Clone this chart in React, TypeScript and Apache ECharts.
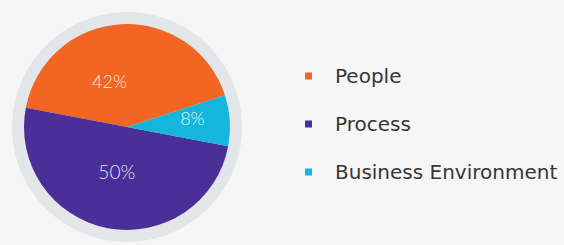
import React, { useEffect, useRef } from "react";
import * as echarts from "echarts";

const categories = ["People", "Process", "Business Environment"];
const values = [42, 50, 8];
const colors = ["#f26522", "#4a2f98", "#14b6dc"];
const labelOffsets: [number, number][] = [[-14, 8], [0, -9], [11, -6]];

export default function App() {
  const ref = useRef<HTMLDivElement>(null);
  useEffect(() => {
    const chart = echarts.init(ref.current!, null, { renderer: "svg" });
    chart.setOption({
      animation: false,
      backgroundColor: "#f6f6f6",
      legend: {
        orient: "vertical",
        left: 300,
        top: 59,
        data: categories,
        icon: "rect",
        itemWidth: 7,
        itemHeight: 7,
        itemGap: 24,
        selectedMode: false,
        textStyle: {
          fontFamily: "DejaVu Sans",
          fontSize: 20,
          fontWeight: 400,
          color: "#363636",
          padding: [0, 0, 0, 18],
          lineHeight: 24,
        },
      },
      series: [
        {
          type: "pie",
          silent: true,
          center: [127, 127],
          radius: [0, 115],
          z: 1,
          label: { show: false },
          labelLine: { show: false },
          itemStyle: { color: "#e3e6e9" },
          data: [{ name: "ring", value: 1 }],
        },
        {
          type: "pie",
          center: [127, 127],
          radius: [0, 103],
          startAngle: 18,
          clockwise: false,
          z: 2,
          label: {
            show: true,
            position: "inside",
            formatter: "{c}%",
            color: "rgba(255,255,255,0.88)",
            fontFamily: "Lato",
            fontWeight: 300,
            fontSize: 18,
          },
          labelLine: { show: false },
          itemStyle: { borderWidth: 0 },
          data: categories.map((name, i) => ({
            name,
            value: values[i],
            itemStyle: { color: colors[i] },
            label: { offset: labelOffsets[i], fontSize: i === 1 ? 19 : 18 },
          })),
        },
      ],
    });
    return () => chart.dispose();
  }, []);
  return (
    <div
      ref={ref}
      style={{ position: "absolute", left: 0, top: 0, width: 564, height: 245 }}
    />
  );
}
